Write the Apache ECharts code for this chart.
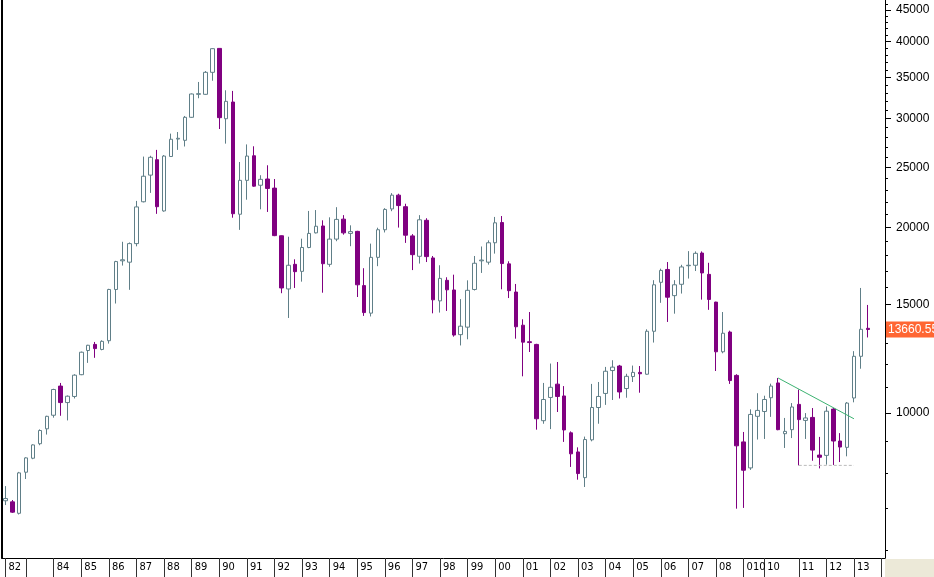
<!DOCTYPE html>
<html><head><meta charset="utf-8">
<script src="https://cdn.jsdelivr.net/npm/echarts@6/dist/echarts.min.js"></script>
<style>html,body{margin:0;padding:0;background:#fff;}#c{width:934px;height:577px;}</style>
</head><body><div id="c"></div><script>
// Quarterly candles, 1982 Q2 .. 2013 Q3
const opens = [7210,7180,6880,8020,8450,8920,9430,9920,11060,10400,10640,11540,12630,12920,12680,13100,15860,17650,17560,18820,22000,24300,25740,21260,26050,27800,27670,30150,32850,32850,35660,38990,29990,31920,21000,23830,26120,23400,23950,23150,19380,15890,17420,16970,18550,19590,20100,17420,19140,20620,19550,19700,16090,14520,17880,19820,21420,22550,21600,19370,17950,20530,17840,15200,16410,15830,13400,13780,15860,17650,17560,18880,20360,17450,15710,13880,13050,12920,9720,10600,11140,10660,9290,8650,7860,9050,10210,10760,11720,11920,10960,11460,11640,11560,13570,16290,17090,15500,16170,17330,17360,18170,16780,15130,12570,13530,11510,8980,8150,9880,10060,10590,11190,9260,9400,10330,9730,9840,8550,8540,10150,9010,8800,10580,12360,13720];
const closes = [7270,6910,8000,8460,8880,9370,9880,10920,10400,10650,11520,12550,12880,12720,13070,15860,17600,17720,18820,21580,24200,25970,21600,26090,27780,27880,30150,32890,32930,35660,38950,30110,32000,21040,23830,26090,23320,23920,23120,19390,15950,17360,16950,18550,19550,20080,17460,19140,20600,19590,19680,16140,14550,17880,19820,21380,22550,21690,19420,18060,20570,17930,15260,16530,15840,13380,13830,15810,17490,17700,18880,20340,17470,15790,13800,13030,13010,9790,10520,11010,10640,9390,8590,7980,9060,10210,10640,11690,11870,10820,11470,11640,11580,13570,16140,17030,15410,16140,17250,17360,18150,16870,15280,12570,13470,11290,8850,8080,9950,10100,10520,11060,9400,9340,10230,9760,9820,8710,8480,10070,9010,8810,10380,12360,13670,13660.55];
const lows = [7095,6890,6850,7820,8420,8870,9230,9830,9900,9730,10560,11520,12060,12290,12640,12960,15050,17340,15840,18630,21950,22740,21030,21200,26000,26700,27040,30100,32370,32800,34560,28860,27330,20730,19810,22170,23270,21390,21180,19350,15640,14260,15950,16330,18500,19550,15670,17260,18990,19460,18640,15420,14370,14340,17300,19620,21240,19980,18870,17050,17470,17570,14510,14550,14640,13300,12870,13170,15800,16870,17400,18130,15870,15360,13200,11470,12560,9400,9610,9420,10040,8980,8180,7800,7590,9000,9610,10310,10500,10560,10590,11230,10790,11540,13010,15090,14050,14490,15620,16520,16990,15270,14700,11700,12500,11150,7000,7020,8090,9060,9080,9860,9380,8780,9110,8227,9080,8370,8135,8250,8240,8330,8510,10410,11800,13260];
const highs = [7616,7230,8030,8480,8900,9410,9900,10950,11190,10680,11560,12580,12900,13040,13120,15900,17650,18950,18900,22070,26040,26120,26700,26190,28370,28540,30300,32950,34400,35830,38990,39000,33350,33270,25520,27250,27060,24290,25210,23950,19400,19310,17750,19170,21260,21330,20530,20760,21560,20930,20150,19740,17170,18820,19970,21480,22720,22670,21840,19500,20930,20690,17970,17360,16600,16760,15300,16410,17970,18620,19050,20790,20860,17620,16190,14190,14580,12950,11190,12030,12100,11060,9340,8800,9160,11150,11230,11880,12180,11970,11580,11940,11920,13670,16420,17140,17570,16420,17390,18300,18280,18280,17520,15150,14580,13600,11560,9320,10140,10770,10670,11160,11400,9820,10380,10920,10000,10190,9150,10250,10190,9280,10420,12600,15950,14970];

// Year separators on the time axis: category index and text
const yearTickIndex = [0,3,7,11,15,19,23,27,31,35,39,43,47,51,55,59,63,67,71,75,79,83,87,91,95,99,103,107,110,115,119,123,127];
const yearTickText  = ['82','','84','85','86','87','88','89','90','91','92','93','94','95','96','97','98','99','00','01','02','03','04','05','06','07','08','010','10','11','12','13','14'];

// Price axis: labelled values and minor tick values
const priceLabels = [10000,15000,20000,25000,30000,35000,40000,45000];
const priceTicks = [6000,7000,8000,9000,10000,11000,12000,13000,14000,15000,16000,17000,18000,19000,20000,21000,22000,23000,24000,25000,26000,27000,28000,29000,30000,31000,32000,33000,34000,35000,36000,37000,38000,39000,40000,41000,42000,43000,44000,45000,46000];

// Drawn lines: falling resistance and flat support [categoryIndex, price]
const trendLine = [[112, 11400], [123, 9790]];
const supportLine = [[115, 8227], [123, 8227]];
const lastPrice = 13660.55;
const lastPriceText = '13660.55';

// categories: quarters from 1982Q2 to 2014Q1
const categories = [];
for (let y = 1982; y <= 2014; y++) {
  for (let q = 1; q <= 4; q++) {
    if (y === 1982 && q === 1) continue;
    if (y === 2014 && q > 1) continue;
    categories.push(y + 'Q' + q);
  }
}

const L = v => Math.log10(v);
const candleData = opens.map((o, i) => [L(o), L(closes[i]), L(lows[i]), L(highs[i])]);
const yShift = 2 / 617;
const yMin = L(5780) + yShift, yMax = L(46360) + yShift;
const labelMap = {};
yearTickIndex.forEach((idx, k) => { labelMap[idx] = yearTickText[k]; });
const tickSet = new Set(yearTickIndex);
const FONT = '"Liberation Sans", Arial, sans-serif';
const NARROW = '"Liberation Sans Narrow", "DejaVu Sans Condensed", "Liberation Sans", sans-serif';

const chart = echarts.init(document.getElementById('c'), null, {renderer: 'canvas'});
chart.setOption({
  animation: false,
  backgroundColor: '#ffffff',
  grid: {left: 2, right: 49, top: 0, bottom: 19, containLabel: false},
  xAxis: {
    type: 'category', data: categories, boundaryGap: true,
    axisLine: {show: true, lineStyle: {color: '#000', width: 1}},
    axisTick: {show: true, alignWithLabel: true, interval: (i) => tickSet.has(i), length: 19, lineStyle: {color: '#333', width: 1}},
    axisLabel: {show: true, interval: (i) => tickSet.has(i), formatter: (v, i) => labelMap[i] || '',
      align: 'left', verticalAlign: 'middle', margin: 9, padding: [0, 0, 0, 3],
      fontSize: 11, fontFamily: NARROW, color: '#000'},
    splitLine: {show: false}
  },
  yAxis: [
    {type: 'value', position: 'right', min: yMin, max: yMax,
      axisLine: {show: true, lineStyle: {color: '#000', width: 1}},
      axisTick: {show: true, customValues: priceTicks.map(L), length: 3, lineStyle: {color: '#000'}},
      axisLabel: {show: false}, splitLine: {show: false}},
    {type: 'value', position: 'right', min: yMin, max: yMax,
      axisLine: {show: false},
      axisTick: {show: true, customValues: priceLabels.map(L), length: 6, lineStyle: {color: '#000'}},
      axisLabel: {show: true, customValues: priceLabels.map(L), margin: 11, fontSize: 12, fontFamily: FONT, color: '#000',
        formatter: (v) => String(Math.round(Math.pow(10, v)))},
      splitLine: {show: false}},
    {type: 'value', position: 'left', min: yMin, max: yMax,
      axisLine: {show: true, lineStyle: {color: '#000', width: 2}},
      axisTick: {show: false}, axisLabel: {show: false}, splitLine: {show: false}}
  ],
  series: [
    {type: 'candlestick', xAxisIndex: 0, yAxisIndex: 0, data: candleData, barWidth: 4, clip: false,
      itemStyle: {color: '#ffffff', color0: '#800080', borderColor: '#607f88', borderColor0: '#800080', borderWidth: 1}},
    {type: 'line', xAxisIndex: 0, yAxisIndex: 0, data: trendLine.map(p => [p[0], L(p[1])]),
      symbol: 'none', lineStyle: {color: '#3cb371', width: 1}, z: 5, clip: false,
      markLine: {silent: true, symbol: ['none', 'none'], animation: false, precision: 6,
        data: [{yAxis: L(lastPrice)}],
        lineStyle: {color: 'rgba(0,0,0,0)', width: 1, type: 'solid'},
        label: {show: true, position: 'end', distance: 1, formatter: lastPriceText, color: '#ffffff',
          backgroundColor: '#ff6633', padding: [2, 1, 2, 2], fontSize: 12, fontFamily: FONT, opacity: 1}}},
    {type: 'line', xAxisIndex: 0, yAxisIndex: 0, data: supportLine.map(p => [p[0], L(p[1])]),
      symbol: 'none', lineStyle: {color: '#bbbbbb', width: 1, type: [3, 2]}, z: 5}
  ],
  graphic: [{type: 'rect', right: 0, bottom: 0, z: 100, shape: {width: 49, height: 18}, style: {fill: '#ece9d8'}}]
});
</script></body></html>
